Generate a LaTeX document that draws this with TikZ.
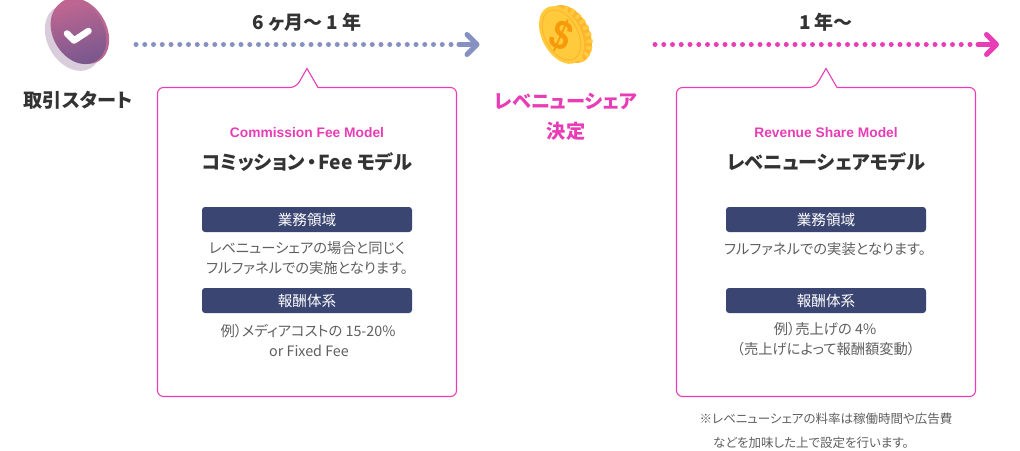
\documentclass[tikz,border=0pt]{standalone}
\usepackage{fontspec}
\setmainfont[RawFeature=+palt]{Noto Sans CJK JP}
\newfontfamily\latinfont{Liberation Sans}
\usetikzlibrary{arrows.meta}

\definecolor{inkgray}{HTML}{333333}
\definecolor{bodygray}{HTML}{5F5F5F}
\definecolor{hotpink}{HTML}{E93DB6}
\definecolor{navypill}{HTML}{3B4572}
\definecolor{dotblue}{HTML}{8790C2}
\definecolor{coinface}{HTML}{FFCB3D}
\definecolor{coinedge}{HTML}{FFB52E}
\definecolor{coinmark}{HTML}{F79A0A}
\definecolor{badgeshadow}{HTML}{D9CDDB}
\definecolor{badgerim}{HTML}{BA6892}
\definecolor{badgepink}{HTML}{BE6691}
\definecolor{badgeplum}{HTML}{7A588E}

\tikzset{
  period/.style={font=\fontsize{19}{19}\selectfont\bfseries, text=inkgray, inner sep=0pt},
  milestone/.style={font=\fontsize{19.2}{20}\selectfont\bfseries, inner sep=0pt},
  modelname/.style={font=\latinfont\fontsize{13.8}{14}\selectfont\bfseries, text=hotpink, inner sep=0pt},
  modeltitle/.style={font=\fontsize{19.2}{20}\selectfont\bfseries, text=inkgray, inner sep=0pt},
  pilltext/.style={font=\fontsize{14.6}{15}\selectfont, text=white, inner sep=0pt},
  bodytext/.style={font=\fontsize{14.3}{15}\selectfont, text=bodygray, inner sep=0pt},
  notetext/.style={font=\fontsize{12.5}{13}\selectfont, text=bodygray, inner sep=0pt},
  pill/.style={fill=navypill, rounded corners=3pt},
  callout/.style={draw=hotpink, line width=1.1pt, fill=white, line join=miter},
  dots/.style={line width=5pt, line cap=round, dash pattern=on 0pt off 8.75pt},
  shaft/.style={line width=5pt, line cap=round, -{Straight Barb[length=10pt,width=20pt,round]}}
}

\begin{document}
\begin{tikzpicture}[x=1pt, y=-1pt]
      \useasboundingbox (0,0) rectangle (1020,450);

      % Check badge
      \fill[badgeshadow, rotate around={-60:(73,38)}] (73,38) ellipse [x radius=35, y radius=25.5];
      \fill[badgerim, rotate around={-60:(81,31)}] (81,31) ellipse [x radius=35, y radius=25.5];
      \shade[left color=badgepink, right color=badgeplum, shading angle=15, rotate around={-60:(78.5,32)}] (78.5,32) ellipse [x radius=34, y radius=25.5];
      \draw[white, line width=6.5pt, line cap=round, line join=round] (67,33.5) -- (74,40.5) -- (88.5,31);

      % Coin
      \fill[coinedge, rotate around={-62:(569,34)}] (569,34) ellipse [x radius=31, y radius=20];
      \draw[coinface, line width=6pt, dash pattern=on 3.5pt off 3.5pt, rotate around={-62:(570,34)}] (570,34) ellipse [x radius=27, y radius=17];
      \fill[coinface, rotate around={-62:(561.5,35)}] (561.5,35) ellipse [x radius=31, y radius=19.5];
      \draw[coinedge, line width=1pt, rotate around={-62:(561.5,35)}] (561.5,35) ellipse [x radius=27, y radius=16.5];
      \node[font=\latinfont\fontsize{42}{42}\selectfont\bfseries, text=coinmark, inner sep=0pt, rotate=-24, xscale=0.85] (dollarsign) at (561.5,35.5) {\$};

      % Timeline
      \coordinate (planStart) at (136,44.5);
      \coordinate (planEnd) at (455,44.5);
      \coordinate (planShaft) at (459,44.5);
      \coordinate (planTip) at (479.5,44.5);
      \coordinate (shareStart) at (655,44.5);
      \coordinate (shareEnd) at (973,44.5);
      \coordinate (shareShaft) at (978,44.5);
      \coordinate (shareTip) at (999,44.5);

      \draw[dots, dotblue] (planStart) -- (planEnd);
      \draw[shaft, dotblue] (planShaft) -- (planTip);
      \draw[dots, hotpink] (shareStart) -- (shareEnd);
      \draw[shaft, hotpink] (shareShaft) -- (shareTip);

      % Milestones
      \node[period] (planPeriod) at (307,22) {6 ヶ月〜 1 年};
      \node[period] (sharePeriod) at (826,22) {1 年〜};
      \node[milestone, text=inkgray] (dealStart) at (78,100) {取引スタート};
      \node[milestone, text=hotpink] (shareDecide) at (566,101) {レベニューシェア};
      \node[milestone, text=hotpink] (shareDecideB) at (566,131) {決定};

      % Left box
      \draw[callout] (296,87.5) -- (307,68.5) -- (318,87.5)
        [rounded corners=6pt] -- (456.5,87.5) -- (456.5,396.5) -- (157.5,396.5) -- (157.5,87.5) -- cycle;
      \node[modelname] (planName) at (307,133) {Commission Fee Model};
      \node[modeltitle] (planTitle) at (307,162) {コミッション\kern2pt・\kern2ptFee モデル};
      \fill[pill] (202,207) rectangle (412,232);
      \node[pilltext] (planScope) at (307,219.5) {業務領域};
      \node[bodytext] (planScopeA) at (307,248) {レベニューシェアの場合と同じく};
      \node[bodytext] (planScopeB) at (307,268) {フルファネルでの実施となります。};
      \fill[pill] (202,288) rectangle (412,313);
      \node[pilltext] (planPay) at (307,300.5) {報酬体系};
      \node[bodytext] (planPayA) at (308,331) {例）メディアコストの 15-20\%};
      \node[bodytext] (planPayB) at (309,351) {or Fixed Fee};

      % Right box
      \draw[callout] (815,87.5) -- (826,68.5) -- (837,87.5)
        [rounded corners=6pt] -- (975.5,87.5) -- (975.5,396.5) -- (676.5,396.5) -- (676.5,87.5) -- cycle;
      \node[modelname] (shareName) at (826,133) {Revenue Share Model};
      \node[modeltitle] (shareTitle) at (826,162) {レベニューシェアモデル};
      \fill[pill] (726,207) rectangle (926,232);
      \node[pilltext] (shareScope) at (826,219.5) {業務領域};
      \node[bodytext] (shareScopeA) at (825,249) {フルファネルでの実装となります。};
      \fill[pill] (726,288) rectangle (926,313);
      \node[pilltext] (sharePay) at (826,300.5) {報酬体系};
      \node[bodytext] (sharePayA) at (825,329) {例）売上げの 4\%};
      \node[bodytext] (sharePayB) at (826,349) {（売上げによって報酬額変動）};

      % Footnote
      \node[notetext] (noteA) at (826,419) {※レベニューシェアの料率は稼働時間や広告費};
      \node[notetext] (noteB) at (811,443) {などを加味した上で設定を行います。};

    \end{tikzpicture}
\end{document}
